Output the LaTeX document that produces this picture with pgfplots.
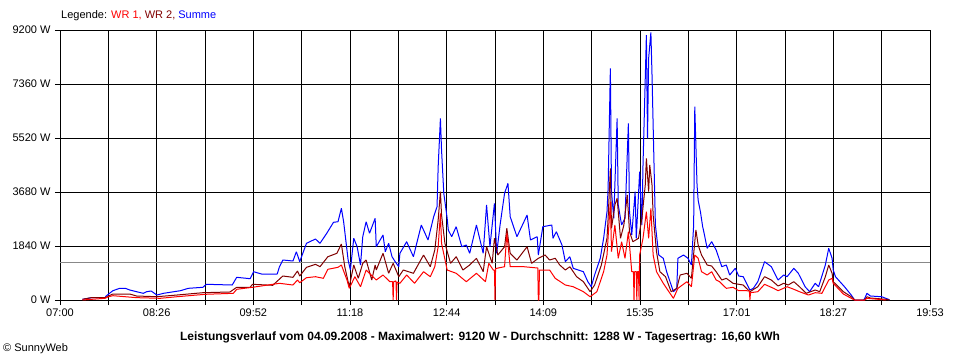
\documentclass[border=0pt]{standalone}
\usepackage{pgfplots}
\pgfplotsset{compat=1.18}
\usepackage{fontspec}
\setmainfont{Liberation Sans}
\definecolor{wrone}{RGB}{255,0,0}
\definecolor{wrtwo}{RGB}{128,0,0}
\definecolor{summe}{RGB}{0,0,255}
\definecolor{avg}{RGB}{136,136,136}
\begin{document}
\begin{tikzpicture}[x=1pt,y=1pt]
\path[use as bounding box] (0,0) rectangle (960,360);
\begin{axis}[at={(60pt,60pt)}, anchor=south west, scale only axis,
  width=870pt, height=270pt,
  xmin=0, xmax=773, ymin=0, ymax=9200,
  xtick={0,42.944,85.889,128.833,171.778,214.722,257.667,300.611,343.556,386.5,429.444,472.389,515.333,558.278,601.222,644.167,687.111,730.056,773},
  xticklabels={07:00,,08:26,,09:52,,11:18,,12:44,,14:09,,15:35,,17:01,,18:27,,19:53},
  ytick={0,1840,3680,5520,7360,9200},
  yticklabels={0 W,1840 W,3680 W,5520 W,7360 W,9200 W},
  grid=major, major grid style={black, line width=1pt},
  axis line style={black, line width=1pt},
  tick style={black, line width=1pt}, tick align=outside, major tick length=5pt,
  xtick pos=bottom, ytick pos=left,
  tick label style={font=\fontsize{11}{13}\selectfont, text=black},
  yticklabel style={xshift=-1pt},
  every axis plot/.append style={line width=1pt, line join=bevel},
]
\addplot[avg] coordinates {(0,1288) (773,1288)};
\addplot[summe] coordinates {
(20,23) (28,80) (40,80) (41,136) (44,228) (47,317) (53,398) (58,398) (62,341) (68,283)
(74,228) (77,283) (81,307) (86,170) (92,228) (107,317) (114,398) (127,433) (130,535) (153,511)
(157,773) (169,726) (172,964) (179,886) (193,886) (195,1135) (198,1363) (207,1329) (210,1646) (213,1305)
(219,1932) (227,2078) (231,1932) (237,2273) (243,2647) (247,2668) (250,3124) (252,2668) (256,1363) (258,1022)
(261,2102) (264,1816) (267,1193) (269,2157) (272,2668) (275,2273) (280,2784) (281,1816) (287,2215) (289,1646)
(292,1932) (295,1475) (298,1295) (301,1135) (302,1591) (308,1986) (314,1475) (321,2555) (327,2044) (332,2838)
(335,3179) (336,4542) (338,6191) (339,5111) (341,3636) (344,2784) (345,2385) (348,2157) (352,2498) (357,1816)
(361,1874) (364,1591) (370,2555) (376,1591) (379,3237) (382,1816) (386,3295) (388,1591) (391,2555) (395,3636)
(398,3976) (400,2838) (406,2157) (415,2896) (418,2044) (424,2157) (425,1533) (429,2498) (437,2555) (438,2102)
(441,2327) (446,1874) (449,1305) (453,1475) (456,1080) (465,964) (469,624) (472,453) (475,852) (480,1421)
(483,2102) (486,3009) (487,3806) (489,7895) (490,3690) (492,2784) (495,6191) (496,3237) (499,2555) (502,2784)
(505,6021) (506,3009) (508,2215) (511,3690) (512,2102) (515,4371) (517,2555) (518,4600) (521,9029) (522,5510)
(523,8236) (525,9120) (526,7667) (527,5963) (529,2555) (532,1533) (536,1421) (539,964) (543,511) (545,283)
(548,398) (549,1421) (554,1533) (558,1421) (561,1193) (563,2555) (564,6586) (566,3918) (567,3400) (569,3009)
(571,2498) (572,2327) (575,1762) (579,1986) (583,1704) (588,1135) (592,1193) (595,852) (600,1080) (603,818)
(607,794) (613,341) (616,398) (620,624) (626,1305) (632,1135) (638,681) (643,852) (646,794) (652,1080)
(656,910) (662,453) (666,283) (671,569) (674,453) (680,1193) (683,1762) (686,1421) (687,1022) (689,794)
(697,453) (703,170) (706,0) (714,0) (715,58) (717,228) (720,136) (730,112) (736,24) (737,0)
};
\addplot[wrtwo] coordinates {
(20,24) (28,80) (40,80) (43,136) (47,204) (62,204) (68,136) (86,112) (104,170) (127,249)
(151,273) (157,433) (169,433) (171,535) (189,501) (198,818) (207,773) (211,988) (213,818) (219,1114)
(227,1216) (231,1135) (238,1475) (246,1591) (250,1908) (253,1135) (257,453) (261,1193) (265,739) (269,1250)
(272,1363) (277,681) (280,1193) (281,1022) (287,1591) (292,910) (296,1250) (301,794) (305,1022) (314,910)
(323,1533) (329,1135) (333,1704) (336,2726) (338,3690) (339,2896) (342,1932) (347,1250) (352,1475) (358,1022)
(364,1193) (370,1421) (376,964) (379,1816) (384,1250) (386,2102) (389,1533) (395,1816) (397,2443) (400,1591)
(406,1363) (415,1816) (419,1250) (425,1421) (429,1499) (431,1533) (435,1363) (440,1421) (444,1193) (449,1022)
(453,1135) (459,794) (465,624) (471,283) (475,511) (481,1193) (486,2102) (487,2784) (489,4487) (490,2443)
(493,3237) (495,3465) (498,2102) (501,2555) (504,3578) (506,2327) (509,1986) (514,2102) (517,2784) (520,3918)
(521,4828) (523,3690) (524,4600) (526,3918) (527,2896) (530,1646) (533,964) (538,794) (543,283) (548,398)
(551,852) (557,910) (561,739) (564,1986) (565,2385) (567,1874) (570,1533) (575,1193) (579,1158) (583,964)
(588,681) (592,739) (598,569) (607,511) (613,283) (620,453) (626,794) (632,681) (638,477) (643,569)
(647,511) (652,624) (657,453) (663,228) (671,341) (675,283) (680,794) (683,1193) (686,910) (687,624)
(696,283) (703,112) (706,0) (715,0) (717,112) (720,68) (734,24) (737,0)
};
\addplot[wrone] coordinates {
(20,0) (40,58) (43,112) (47,147) (68,80) (89,58) (104,112) (129,194) (154,228) (157,365)
(171,433) (195,569) (207,511) (211,681) (213,589) (219,760) (227,794) (234,739) (238,1046) (247,1114)
(250,1193) (255,681) (257,398) (262,794) (267,453) (272,1022) (278,794) (281,681) (287,852) (293,624)
(295.5,624) (296,0) (296.5,624) (298.5,650) (299,0) (299.5,613) (302,569) (308,852) (315,569) (323,964)
(329,794) (333,1135) (336,1816) (338,2954) (339,1932) (344,1022) (352,910) (361,624) (370,910) (378,624)
(381,1250) (385,1022) (386,1022) (386.5,0) (387,1080) (388,1080) (395,1135) (397,2273) (400,1135) (412,1135)
(424.5,1090) (425,0) (425.5,0) (426,1022) (435,1022) (440,739) (449,511) (456,453) (465,283) (471,112)
(477,283) (483,964) (486,1533) (489,3350) (490,1646) (493,2555) (496,1421) (499,1986) (502,1421) (505,2327)
(508,964) (509.5,964) (510,0) (510.5,964) (512,964) (512.5,0) (513,964) (514,964) (514.5,0) (515,1533)
(518,2102) (521,3009) (523,2102) (525,3124) (527,1533) (530,964) (536,569) (541,283) (545,58) (549,398)
(557,624) (561,453) (564,1533) (567,1421) (570,964) (575,852) (579,964) (583,681) (586,624) (592,398)
(598,433) (603,317) (610,317) (612.5,307) (613,0) (613.5,249) (620,283) (626,535) (634,398) (638,317)
(646,453) (652,365) (657,283) (665,170) (671,249) (677,228) (683,681) (686,739) (687,569) (696,204)
(703,58) (706,0) (715,0) (717,58) (734,0)
};
\end{axis}
\node[anchor=west, inner sep=0pt, font=\fontsize{11}{13}\selectfont] at (61,344)
  {Legende: \textcolor{wrone}{WR 1,} \textcolor{wrtwo}{WR 2,} \textcolor{summe}{Summe}};
\node[inner sep=0pt, font=\fontsize{12}{14}\selectfont\bfseries] at (480,23)
  {Leistungsverlauf vom 04.09.2008 - Maximalwert: 9120 W - Durchschnitt: 1288 W - Tagesertrag: 16,60 kWh};
\node[anchor=west, inner sep=0pt, font=\fontsize{11}{13}\selectfont] at (3,11)
  {\textcopyright{} SunnyWeb};
\end{tikzpicture}
\end{document}
